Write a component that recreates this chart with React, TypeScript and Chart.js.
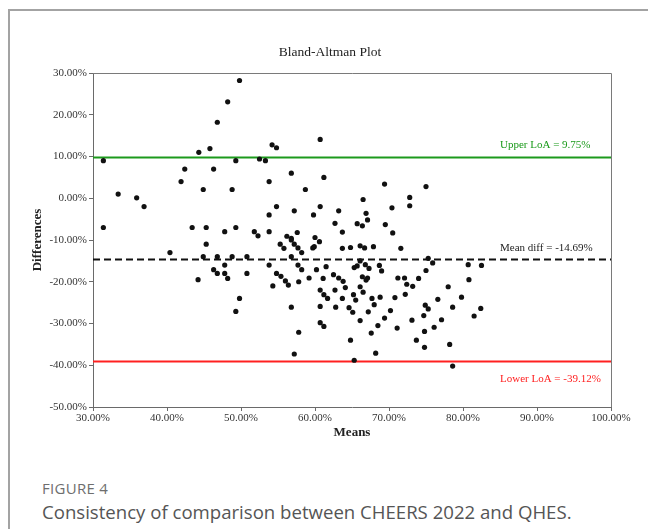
import React, { useEffect, useRef } from "react";
import { Chart, registerables } from "chart.js";

Chart.register(...registerables);

// Bland-Altman scatter: mean of the two scores (%) and their difference (%)
const means: number[] = [
  31.4, 31.4, 33.4, 35.9, 36.9, 40.4, 41.9, 42.4, 43.4, 44.2, 44.3, 44.9, 44.9, 45.3, 45.3, 45.8, 46.3, 46.3, 46.8, 46.8,
  46.8, 47.8, 47.8, 47.8, 48.2, 48.2, 49.8, 54.2, 54.8, 60.7, 49.3, 52.5, 53.3, 56.8, 61.2, 53.8, 48.8, 58.7, 54.8, 57.2,
  60.7, 53.8, 59.8, 49.3, 51.8, 52.3, 53.8, 56.2, 56.8, 57.6, 60.0, 55.3, 55.8, 56.8, 57.2, 57.7, 58.2, 59.7, 59.9, 60.6,
  48.8, 50.8, 56.8, 50.8, 53.8, 54.8, 55.4, 56.0, 56.4, 54.3, 57.7, 58.2, 57.8, 59.2, 60.2, 61.5, 61.1, 60.7, 61.2, 61.7,
  49.8, 49.3, 56.8, 60.7, 60.7, 61.2, 57.8, 57.2, 69.4, 75.0, 66.5, 72.8, 72.8, 63.2, 70.4, 66.9, 67.1, 62.7, 65.7, 66.4,
  69.5, 63.7, 70.5, 63.7, 64.8, 66.1, 66.7, 67.9, 71.6, 66.1, 75.3, 75.9, 80.7, 82.5, 65.3, 65.7, 66.8, 67.3, 68.7, 69.0,
  75.0, 62.5, 63.2, 63.8, 66.4, 67.1, 66.9, 71.2, 72.1, 74.0, 80.8, 72.4, 73.2, 66.1, 64.1, 62.7, 78.0, 66.5, 65.2, 72.2,
  63.7, 65.5, 67.7, 68.8, 70.8, 76.6, 79.8, 62.8, 64.6, 68.0, 65.1, 67.2, 70.2, 74.9, 75.3, 78.6, 82.4, 81.5, 66.1, 69.4,
  73.1, 74.7, 77.1, 68.5, 71.1, 76.1, 67.6, 74.8, 64.8, 73.7, 78.2, 74.8, 68.2, 65.3, 78.6,
];
const diffs: number[] = [
  9.0, -7.0, 1.0, 0.1, -2.0, -13.0, 4.0, 7.0, -7.0, -19.5, 11.0, 2.1, -14.0, -7.0, -11.0, 11.9, 7.0, -17.1, 18.2, -14.0,
  -18.0, -8.0, -16.0, -18.0, 23.1, -19.2, 28.2, 12.8, 12.1, 14.1, 9.0, 9.4, 9.0, 6.0, 5.0, 4.0, 2.1, 2.1, -2.0, -3.0,
  -2.0, -4.0, -4.0, -7.0, -8.0, -9.0, -8.0, -9.1, -9.6, -8.2, -9.4, -11.0, -12.0, -10.0, -11.0, -11.9, -13.0, -11.9, -11.6, -10.4,
  -14.0, -14.0, -14.0, -18.0, -16.0, -18.0, -18.7, -19.8, -20.8, -21.0, -16.0, -17.1, -20.0, -19.1, -17.1, -16.4, -19.2, -22.0, -23.1, -24.0,
  -24.0, -27.1, -26.1, -25.9, -29.8, -30.7, -32.1, -37.3, 3.4, 2.8, -0.3, 0.2, -1.8, -3.0, -2.3, -3.6, -5.2, -6.0, -6.1, -6.6,
  -6.3, -8.1, -8.3, -12.0, -11.8, -11.4, -11.9, -11.6, -12.0, -15.0, -14.4, -15.5, -15.9, -16.1, -16.6, -16.2, -15.9, -16.8, -16.1, -17.4,
  -17.3, -18.3, -19.1, -19.9, -18.8, -19.1, -19.6, -19.1, -19.1, -19.2, -19.5, -20.6, -21.1, -21.2, -21.4, -22.0, -21.2, -22.5, -23.1, -23.0,
  -24.0, -24.4, -24.0, -23.7, -23.8, -24.2, -23.7, -26.1, -26.2, -25.5, -27.3, -27.2, -26.9, -25.6, -26.5, -26.1, -26.4, -28.2, -29.3, -28.7,
  -29.2, -28.1, -29.1, -30.5, -31.1, -30.9, -32.3, -31.9, -34.0, -34.0, -35.0, -35.7, -37.1, -38.8, -40.2,
];

const xRange: number[] = [30, 100];
const yRange: number[] = [-50, 30];
const tickStep = 10;

const upperLoA = 9.75;
const meanDiff = -14.69;
const lowerLoA = -39.12;
const lineLabels: string[] = ["Upper LoA = 9.75%", "Mean diff = -14.69%", "Lower LoA = -39.12%"];

const chartTitle = "Bland-Altman Plot";
const xTitle = "Means";
const yTitle = "Differences";
const figureLabel = "FIGURE 4";
const caption = "Consistency of comparison between CHEERS 2022 and QHES.";

const SERIF = "'Liberation Serif', 'DejaVu Serif', serif";

const hLine = (y: number) => [
  { x: xRange[0], y },
  { x: xRange[1], y },
];

const overlayPlugin = {
  id: "overlay",
  afterDraw(chart: any) {
    const { ctx, chartArea, scales } = chart;
    const ys = scales.y;
    ctx.save();
    // frame top + right
    ctx.strokeStyle = "#7a7a7a";
    ctx.lineWidth = 1;
    ctx.beginPath();
    ctx.moveTo(chartArea.left, chartArea.top + 0.5);
    ctx.lineTo(chartArea.right + 0.5, chartArea.top + 0.5);
    ctx.lineTo(chartArea.right + 0.5, chartArea.bottom);
    ctx.stroke();

    // title
    ctx.fillStyle = "#222";
    ctx.font = `13.5px ${SERIF}`;
    ctx.textAlign = "center";
    ctx.textBaseline = "middle";
    ctx.fillText(chartTitle, 330, 52);

    // axis titles
    ctx.font = `bold 13px ${SERIF}`;
    ctx.fillText(xTitle, (chartArea.left + chartArea.right) / 2, 433);
    ctx.save();
    ctx.translate(38, (chartArea.top + chartArea.bottom) / 2);
    ctx.rotate(-Math.PI / 2);
    ctx.fillText(yTitle, 0, 0);
    ctx.restore();

    // line labels
    ctx.font = `11px ${SERIF}`;
    ctx.textAlign = "left";
    ctx.fillStyle = "#1a9a1a";
    ctx.fillText(lineLabels[0], 500, ys.getPixelForValue(upperLoA) - 12);
    ctx.fillStyle = "#222";
    ctx.fillText(lineLabels[1], 500, ys.getPixelForValue(meanDiff) - 11);
    ctx.fillStyle = "#ff2020";
    ctx.fillText(lineLabels[2], 500, ys.getPixelForValue(lowerLoA) + 18);
    ctx.restore();
  },
};

function BlandAltman() {
  const ref = useRef<HTMLCanvasElement | null>(null);
  useEffect(() => {
    if (!ref.current) return;
    const points = means.map((m, i) => ({ x: m, y: diffs[i] }));
    const tickFont = { family: SERIF, size: 11 };
    const chart = new Chart(ref.current, {
      type: "scatter",
      data: {
        datasets: [
          {
            type: "line",
            data: hLine(upperLoA),
            borderColor: "#1c9a1c",
            borderWidth: 2,
            pointRadius: 0,
            order: 3,
          } as any,
          {
            type: "line",
            data: hLine(meanDiff),
            borderColor: "#111",
            borderWidth: 2,
            borderDash: [7, 4],
            pointRadius: 0,
            order: 3,
          } as any,
          {
            type: "line",
            data: hLine(lowerLoA),
            borderColor: "#ff2020",
            borderWidth: 2,
            pointRadius: 0,
            order: 3,
          } as any,
          {
            data: points,
            backgroundColor: "#111",
            borderColor: "#111",
            pointRadius: 2.6,
            pointBorderWidth: 0,
            order: 1,
          },
        ],
      },
      options: {
        animation: false,
        responsive: false,
        events: [],
        layout: { padding: { left: 0, right: 37, top: 73, bottom: 0 } },
        plugins: { legend: { display: false }, tooltip: { enabled: false }, title: { display: false } },
        scales: {
          x: {
            type: "linear",
            min: xRange[0],
            max: xRange[1],
            ticks: {
              stepSize: tickStep,
              font: tickFont,
              color: "#333",
              padding: 1,
              maxRotation: 0,
              callback: (v: any) => Number(v).toFixed(2) + "%",
            },
            grid: { drawOnChartArea: false, drawTicks: true, tickLength: 4, color: "#6a6a6a" },
            border: { display: true, color: "#6a6a6a", width: 1 },
            afterFit: (s: any) => {
              s.height = 40;
            },
          },
          y: {
            type: "linear",
            min: yRange[0],
            max: yRange[1],
            ticks: {
              stepSize: tickStep,
              font: tickFont,
              color: "#333",
              padding: 2,
              callback: (v: any) => Number(v).toFixed(2) + "%",
            },
            grid: { drawOnChartArea: false, drawTicks: true, tickLength: 4, color: "#6a6a6a" },
            border: { display: true, color: "#6a6a6a", width: 1 },
            afterFit: (s: any) => {
              s.width = 93;
            },
          },
        },
      },
      plugins: [overlayPlugin],
    });
    return () => chart.destroy();
  }, []);
  return (
    <canvas
      ref={ref}
      width={648}
      height={447}
      style={{ position: "absolute", left: 0, top: 0, width: 648, height: 447 }}
    />
  );
}

export default function App() {
  return (
    <div
      style={{
        position: "fixed",
        left: 0,
        top: 0,
        width: 648,
        height: 529,
        overflow: "hidden",
        background: "#fff",
      }}
    >
      <div
        style={{
          position: "absolute",
          left: 8,
          top: 9,
          width: 720,
          height: 600,
          border: "2px solid #a3a3a3",
          boxSizing: "border-box",
        }}
      />
      <BlandAltman />
      <div
        style={{
          position: "absolute",
          left: 42,
          top: 478,
          fontFamily: "'Open Sans', sans-serif",
          fontSize: 15,
          color: "#6e6e6e",
          letterSpacing: 0.3,
          lineHeight: "20px",
        }}
      >
        {figureLabel}
      </div>
      <div
        style={{
          position: "absolute",
          left: 42,
          top: 499,
          fontFamily: "'Open Sans', sans-serif",
          fontSize: 18.6,
          color: "#555",
          lineHeight: "26px",
          whiteSpace: "nowrap",
        }}
      >
        {caption}
      </div>
    </div>
  );
}
